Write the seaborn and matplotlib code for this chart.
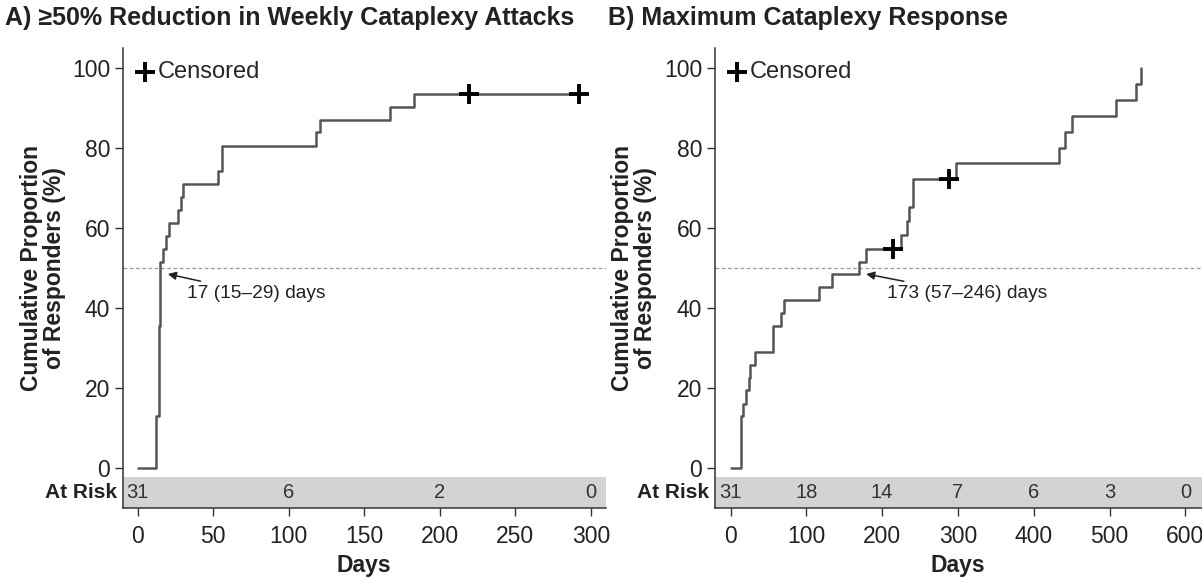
import matplotlib
matplotlib.use("Agg")
import matplotlib.pyplot as plt
import matplotlib.transforms as mtransforms
import pandas as pd
import seaborn as sns

# Dados (curvas de Kaplan-Meier acumuladas, em %)
a_days = [0, 12, 14, 15, 17, 19, 21, 27, 29, 30, 53, 56, 118, 121, 167, 183, 292]
a_pct = [0, 12.9, 35.5, 51.6, 54.8, 58.1, 61.3, 64.5, 67.7, 71.0, 74.2, 80.6,
         83.9, 87.1, 90.3, 93.5, 93.5]
a_cens_days = [219, 292]
a_cens_pct = [93.5, 93.5]
a_risk_days = [0, 100, 200, 300]
a_risk_n = [31, 6, 2, 0]

b_days = [0, 14, 16, 21, 24, 26, 32, 56, 66, 70, 117, 134, 169, 179, 225, 233,
          236, 241, 298, 434, 441, 451, 508, 535, 542]
b_pct = [0, 12.9, 16.1, 19.4, 22.6, 25.8, 29.0, 35.5, 38.7, 41.9, 45.2, 48.4,
         51.6, 54.8, 58.3, 61.8, 65.3, 72.2, 76.2, 80.1, 84.1, 88.1, 92.1, 96.0, 100]
b_cens_days = [214, 288]
b_cens_pct = [54.8, 72.2]
b_risk_days = [0, 100, 200, 300, 400, 500, 600]
b_risk_n = [31, 18, 14, 7, 6, 3, 0]

titles = ["A) \u226550% Reduction in Weekly Cataplexy Attacks",
          "B) Maximum Cataplexy Response"]
medians = ["17 (15\u201329) days", "173 (57\u2013246) days"]

sns.set_theme(style="ticks")
plt.rcParams["font.family"] = ["Liberation Sans", "DejaVu Sans"]

fig = plt.figure(figsize=(12.02, 5.79), dpi=100)
W, H = 1202, 579
ax_a = fig.add_axes([122.5 / W, (H - 508) / H, (606 - 122.5) / W, 460 / H])
ax_b = fig.add_axes([714.6 / W, (H - 508) / H, (1202 - 714.6) / W, 460 / H])

curve_color = "#555555"
paineis = [
    (ax_a, a_days, a_pct, a_cens_days, a_cens_pct, a_risk_days, a_risk_n,
     (-10, 310), range(0, 301, 50), medians[0], (20, 48.5), (33, 43.6)),
    (ax_b, b_days, b_pct, b_cens_days, b_cens_pct, b_risk_days, b_risk_n,
     (-21, 622), range(0, 601, 100), medians[1], (179, 48.5), (207, 43.6)),
]

for ax, days, pct, cd, cp, rd, rn, xlim, xt, med, tip, txt in paineis:
    curva = pd.DataFrame({"dias": days, "pct": pct})
    cens = pd.DataFrame({"dias": cd, "pct": cp})

    # faixa cinza dos pacientes em risco
    ax.axhspan(-10, -2.2, color="#d3d3d5", lw=0, zorder=0)
    ax.axhline(50, color="#9a9a9a", lw=0.9, ls=(0, (3, 2)), zorder=1)

    sns.lineplot(data=curva, x="dias", y="pct", ax=ax, estimator=None, sort=False,
                 drawstyle="steps-post", color=curve_color, lw=1.8, zorder=3)
    sns.scatterplot(data=cens, x="dias", y="pct", ax=ax, marker="+", s=200,
                    color="black", linewidth=2.8, zorder=4, label="Censored")

    ax.legend(loc="upper left", bbox_to_anchor=(0.0, 1.0), frameon=False,
              fontsize=17, handlelength=0.8, handletextpad=0.15,
              borderaxespad=0.25, borderpad=0.3)

    ax.annotate(med, xy=tip, xytext=txt, fontsize=13.8, va="center", ha="left",
                color="#222222",
                arrowprops=dict(arrowstyle="-|>", color="#222222", lw=1.1,
                                mutation_scale=12, shrinkA=2, shrinkB=0))

    for d, n in zip(rd, rn):
        ax.text(d, -6.1, str(n), ha="center", va="center", fontsize=14.5,
                color="#333333")
    trans = mtransforms.blended_transform_factory(ax.transAxes, ax.transData)
    ax.text(-0.012, -6.1, "At Risk", transform=trans, ha="right", va="center",
            fontsize=15, fontweight="bold", color="#222222")

    ax.set_xlim(*xlim)
    ax.set_ylim(-10, 105)
    ax.set_xticks(list(xt))
    ax.set_yticks(range(0, 101, 20))
    ax.tick_params(axis="both", direction="out", length=6, width=1,
                   color="#333333", labelsize=16.5, labelcolor="#222222", pad=3)
    ax.tick_params(axis="x", pad=6)
    for s in ["top", "right"]:
        ax.spines[s].set_visible(False)
    for s in ["left", "bottom"]:
        ax.spines[s].set_color("#333333")
        ax.spines[s].set_linewidth(1.1)

    ax.set_xlabel("Days", fontsize=16.5, fontweight="bold", color="#222222",
                  va="center")
    ax.set_ylabel("Cumulative Proportion\nof Responders (%)", fontsize=16.5,
                  fontweight="bold", color="#222222", va="center", linespacing=1.0)
    ax.yaxis.set_label_coords(-0.165, 0.522)
    ax.xaxis.set_label_coords(0.5, -0.125)

fig.text(5 / W, 1 - 18 / H, titles[0], fontsize=18, fontweight="bold",
         va="center", ha="left", color="#222222")
fig.text(608 / W, 1 - 18 / H, titles[1], fontsize=18, fontweight="bold",
         va="center", ha="left", color="#222222")

fig.savefig("out.png", dpi=100)
